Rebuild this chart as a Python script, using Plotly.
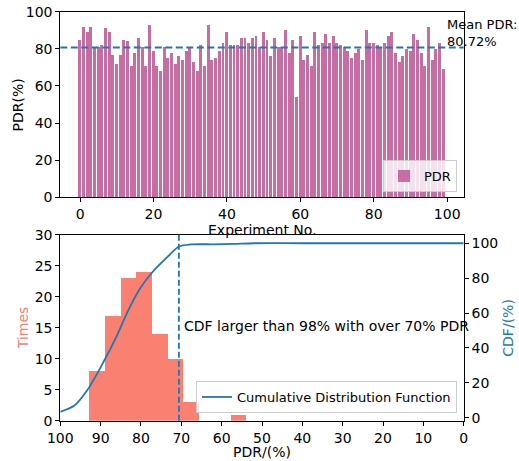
import plotly.graph_objects as go

# ---------------- data ----------------
experiment_no = list(range(100))
pdr_values = [
    85, 92, 89, 92, 81, 81, 82, 91.4, 89, 77,
    72, 77, 85, 84.4, 71, 78, 86, 81, 71, 93,
    79, 71, 68.3, 81, 75.3, 78, 72, 76.3, 74.2, 79,
    81, 73, 68.3, 82.3, 71, 93, 74.2, 75.3, 79, 83.3,
    89, 82.3, 82.3, 82.3, 86, 86, 83.3, 86, 87.1, 81,
    89, 85, 76.3, 86, 81, 81, 90.3, 78, 85, 54.3,
    87, 74.2, 77, 71, 89, 82.3, 83.3, 88, 83.3, 87,
    83.3, 82.3, 81, 79, 75.3, 78, 80, 74.2, 90.3, 83.3,
    83.3, 82.3, 81, 83.3, 87, 89, 78, 73, 76.3, 80,
    79, 88, 85, 78, 71, 92, 74.2, 80, 83.3, 69.4,
]
mean_pdr = 80.72

hist_edges = [53.8, 57.7, 61.6, 65.5, 69.4, 73.3, 77.2, 81.1, 85.0, 88.9, 92.8]
hist_counts = [1, 0, 0, 3, 10, 14, 24, 23, 17, 8]

cdf_pdr = [100, 96.5, 93.2, 89.7, 85.9, 83.4, 80.2, 77.3, 73.5, 70.6, 67.7, 62, 57, 52, 40, 20, 0]
cdf_val = [3.4, 7.0, 16.2, 30.2, 47.4, 60.4, 74.2, 83.1, 92.0, 98.1, 99.3, 99.4, 99.6, 100, 100, 100, 100]
cdf_threshold = 70.6

top_xticks = [0, 20, 40, 60, 80, 100]
top_yticks = [0, 20, 40, 60, 80, 100]
bot_xticks = [100, 90, 80, 70, 60, 50, 40, 30, 20, 10, 0]
bot_yticks = [0, 5, 10, 15, 20, 25, 30]
cdf_ticks = [0, 20, 40, 60, 80, 100]

# ---------------- style ----------------
FONT = "DejaVu Sans"
FS = 14
LFS = 13
PINK = "#c86ca4"
SALMON = "#fa8072"
BLUE = "#1f77b4"
W, H = 519, 461

def px_x(p):
    return p / W

def px_y(p):
    return (H - p) / H

hist_centers = [(hist_edges[i] + hist_edges[i + 1]) / 2 for i in range(len(hist_counts))]
hist_widths = [hist_edges[i + 1] - hist_edges[i] for i in range(len(hist_counts))]

fig = go.Figure()

fig.add_trace(go.Bar(
    x=experiment_no, y=pdr_values, width=0.8, marker=dict(color=PINK, line=dict(width=0)),
    name="PDR", xaxis="x", yaxis="y", legend="legend", showlegend=True,
))

fig.add_trace(go.Bar(
    x=hist_centers, y=hist_counts, width=hist_widths,
    marker=dict(color=SALMON, line=dict(width=0)),
    name="Times", xaxis="x2", yaxis="y2", showlegend=False,
))

fig.add_trace(go.Scatter(
    x=cdf_pdr, y=cdf_val, mode="lines", line=dict(color=BLUE, width=1.8, shape="spline", smoothing=0.8),
    name="Cumulative Distribution Function", xaxis="x2", yaxis="y3", legend="legend2", showlegend=True,
))

axis_common = dict(
    showline=True, linecolor="black", linewidth=1, mirror=True,
    ticks="outside", ticklen=4, tickcolor="black", tickwidth=1,
    showgrid=False, zeroline=False, automargin=False,
    tickfont=dict(family=FONT, size=FS, color="black"),
)

xdom = [px_x(60.3), px_x(463.7)]

fig.update_layout(
    width=W, height=H,
    margin=dict(l=0, r=0, t=0, b=0, autoexpand=False),
    paper_bgcolor="white", plot_bgcolor="white",
    font=dict(family=FONT, size=FS, color="black"),
    bargap=0,
    xaxis=dict(domain=xdom, range=[-5.4, 104.5], anchor="y", tickvals=top_xticks, **axis_common),
    yaxis=dict(domain=[px_y(197.3), px_y(11.7)], range=[0, 100], anchor="x", tickvals=top_yticks, **axis_common),
    xaxis2=dict(domain=xdom, range=[100, 0], anchor="y2", tickvals=bot_xticks, **axis_common),
    yaxis2=dict(domain=[px_y(420.7), px_y(234.7)], range=[0, 30], anchor="x2", tickvals=bot_yticks, **axis_common),
    yaxis3=dict(overlaying="y2", side="right", anchor="x2", range=[-1.7, 104.9], tickvals=cdf_ticks,
                showline=True, linecolor="black", linewidth=1, ticks="outside", ticklen=4,
                tickcolor="black", showgrid=False, zeroline=False, automargin=False,
                tickfont=dict(family=FONT, size=FS, color="black")),
    legend=dict(x=px_x(457), xanchor="right", y=px_y(192), yanchor="bottom",
                bgcolor="rgba(255,255,255,0.8)", bordercolor="#cccccc", borderwidth=1,
                font=dict(family=FONT, size=LFS, color="black")),
    legend2=dict(x=px_x(457), xanchor="right", y=px_y(413), yanchor="bottom",
                 bgcolor="rgba(255,255,255,0.8)", bordercolor="#cccccc", borderwidth=1,
                 font=dict(family=FONT, size=LFS, color="black")),
)

# mean line
fig.add_shape(type="line", xref="x domain", yref="y", x0=0, x1=1, y0=mean_pdr, y1=mean_pdr,
              line=dict(color=BLUE, width=2, dash="7px,3.5px"))
# CDF threshold line
fig.add_shape(type="line", xref="x2", yref="y2 domain", x0=cdf_threshold, x1=cdf_threshold, y0=0, y1=1,
              line=dict(color=BLUE, width=1.8, dash="6px,3px"))

annotations = [
    dict(text=f"Mean PDR:<br>{mean_pdr:.2f}%", xref="x", yref="y", x=99.7, y=mean_pdr,
         xanchor="left", yanchor="bottom", align="left", showarrow=False, borderpad=0, yshift=-3,
         font=dict(family=FONT, size=13, color="black")),
    dict(text="CDF larger than 98% with over 70% PDR", xref="x2", yref="y2", x=69.8, y=15.3,
         xanchor="left", yanchor="middle", showarrow=False,
         font=dict(family=FONT, size=FS, color="black")),
    dict(text="PDR(%)", xref="paper", yref="paper", x=px_x(18), y=px_y(104.5), textangle=-90,
         xanchor="center", yanchor="middle", showarrow=False, font=dict(family=FONT, size=FS, color="black")),
    dict(text="Experiment No.", xref="paper", yref="paper", x=px_x(262), y=px_y(230),
         xanchor="center", yanchor="middle", showarrow=False, font=dict(family=FONT, size=FS, color="black")),
    dict(text="Times", xref="paper", yref="paper", x=px_x(22.5), y=px_y(327.7), textangle=-90,
         xanchor="center", yanchor="middle", showarrow=False, font=dict(family=FONT, size=FS, color=SALMON)),
    dict(text="CDF/(%)", xref="paper", yref="paper", x=px_x(508), y=px_y(327.7), textangle=-90,
         xanchor="center", yanchor="middle", showarrow=False, font=dict(family=FONT, size=FS, color=BLUE)),
    dict(text="PDR/(%)", xref="paper", yref="paper", x=px_x(262), y=px_y(452),
         xanchor="center", yanchor="middle", showarrow=False, font=dict(family=FONT, size=FS, color="black")),
]
fig.update_layout(annotations=annotations)

fig.write_html("out.html")
